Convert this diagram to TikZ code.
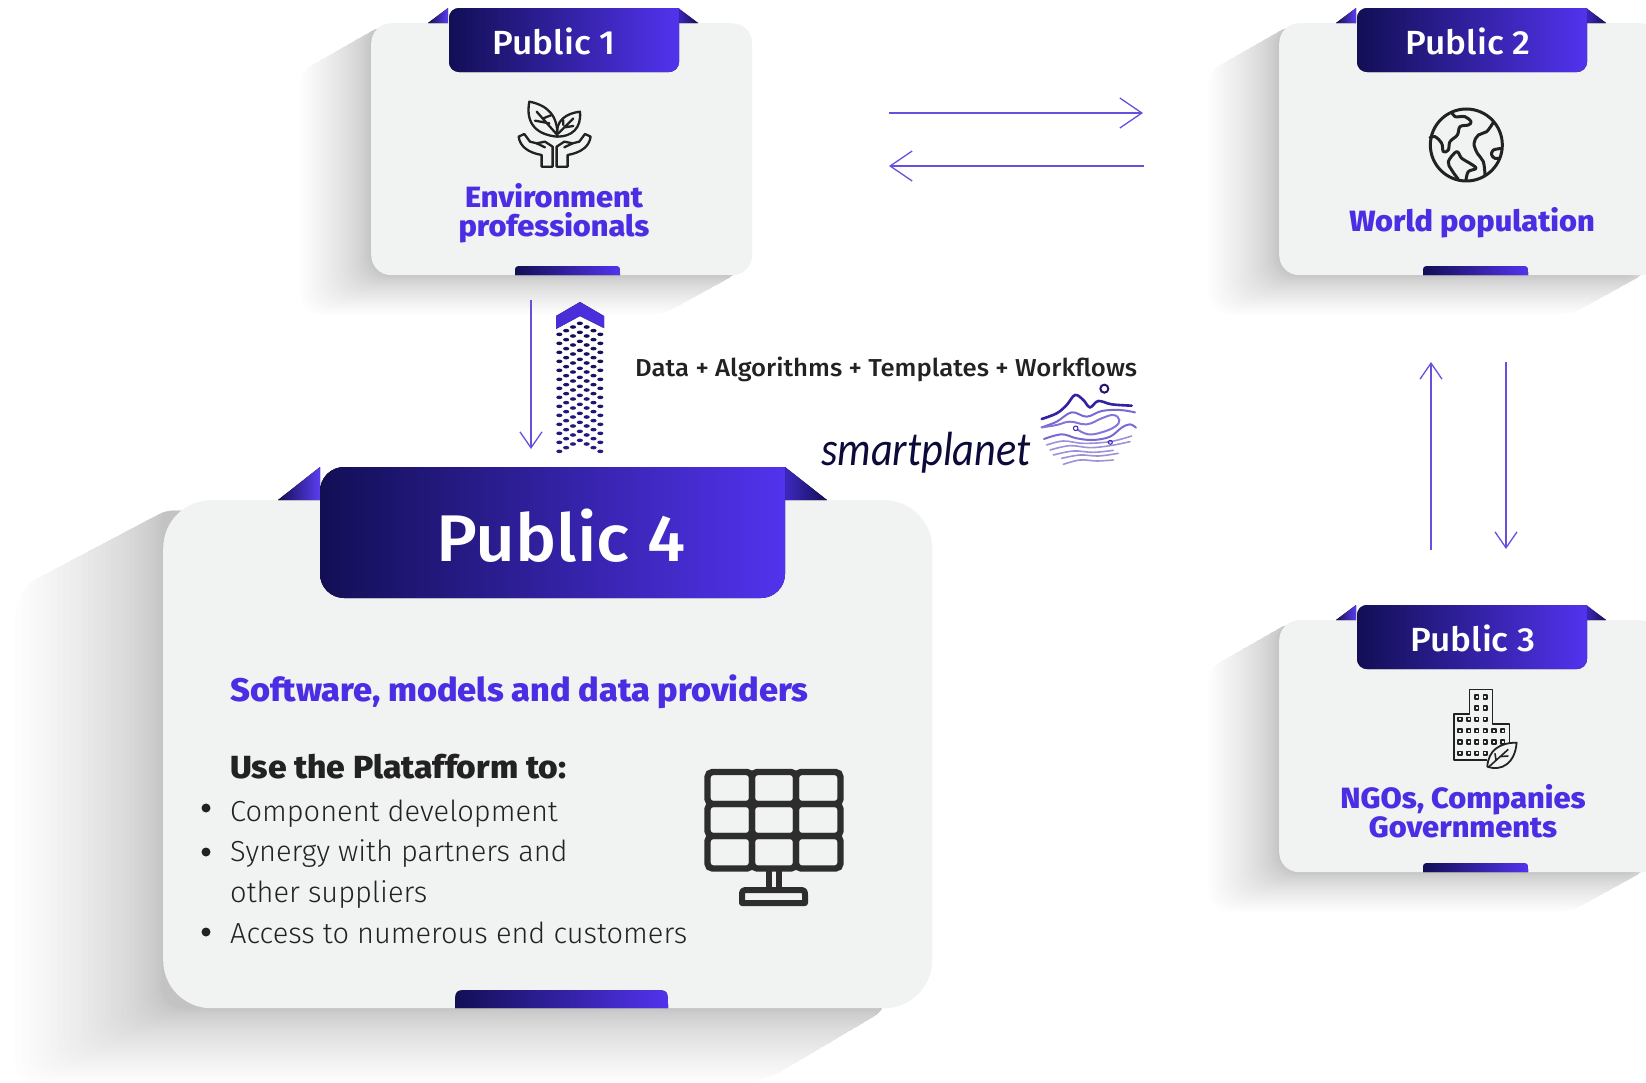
\documentclass[tikz,border=0pt]{standalone}
\usepackage{fontspec}
\usetikzlibrary{arrows.meta}
\setmainfont{Fira Sans}
\newfontfamily\lightf{Fira Sans Light}
\newfontfamily\medf[FakeStretch=1.05]{Fira Sans Medium}
\newfontfamily\dataf[FakeStretch=1.05]{Fira Sans Medium}
\newfontfamily\heavyf[FakeStretch=1.05]{Fira Sans ExtraBold}
\newfontfamily\smartf[FakeStretch=0.88]{Carlito}
\definecolor{navy}{HTML}{120F55}
\definecolor{violet}{HTML}{5233EE}
\definecolor{tagtext}{HTML}{4B2EE3}
\definecolor{cardbg}{HTML}{F1F2F2}
\definecolor{arrowc}{HTML}{6650DE}
\definecolor{ink}{HTML}{222222}
\tikzset{
  cardbox/.style={draw=none,fill=cardbg,rounded corners=#1,inner sep=0pt},
  tabfill/.style={left color=navy,right color=violet,draw=none},
  foldl/.style={left color=navy,right color=violet!95!white,draw=none},
  foldr/.style={left color=violet!70!navy,right color=navy,draw=none},
  flow/.style={arrowc,line width=1.3pt,-{Straight Barb[length=22pt,width=30pt,line width=1.3pt]}},
  flowb/.style={arrowc,line width=2pt,-{Straight Barb[length=22pt,width=30pt,line width=1.3pt]}},
  flowv/.style={arrowc,line width=1.3pt,-{Straight Barb[length=16pt,width=22pt,line width=1.3pt]}},
  flowvb/.style={arrowc,line width=2.4pt,-{Straight Barb[length=16pt,width=22pt,line width=1.3pt]}},
  pubtext/.style={text=white,font=\medf\fontsize{33.5}{33}\selectfont,anchor=base,inner sep=0pt},
  roletext/.style={text=tagtext,font=\heavyf\fontsize{29.3}{29}\selectfont,anchor=base,inner sep=0pt},
  listtext/.style={text=ink,font=\lightf\fontsize{29}{29}\selectfont,anchor=base west,inner sep=0pt},
  bulletdot/.style={circle,fill=ink,inner sep=0pt,minimum size=9pt},
  icon/.style={draw=ink,line width=2pt,line join=round,line cap=round,fill=none},
  wave/.style={line width=2pt,line cap=round}
}
% shadow: #1,#2 card top-left; #3,#4 card bottom-right; #5 left reach; #6 bottom reach; #7 clip polygon
\newcommand{\softshadow}[7]{%
  \begin{scope}
    \clip #7;
    \foreach \i in {0,...,29}{%
      \pgfmathsetmacro{\ff}{(1-\i/30)^1.5}
      \fill[black,fill opacity=0.0062,rounded corners=22pt]
        ({#1-#5*\ff},{#2}) rectangle ({#3},{#4+#6*\ff});
    }
  \end{scope}}
% tab whose top corners are rounded: left x, right x, top y, bottom y, radius
\newcommand{\lowtab}[5]{%
  \fill[tabfill] (#1,#4) .. controls (#1,#3) .. ({#1+#5},#3) -- ({#2-#5},#3) .. controls (#2,#3) .. (#2,#4) -- cycle;}
\newcommand{\smallcard}[3]{% name, left x, top y
  \node[cardbox=20pt,minimum width=381pt,minimum height=252pt,anchor=north west] (#1) at (#2,#3) {};
  \fill[foldl] ({#2+57},{#3}) -- ({#2+77},{#3-15}) -- ({#2+77},{#3}) -- cycle;
  \fill[foldr] ({#2+307},{#3-15}) -- ({#2+327},{#3}) -- ({#2+307},{#3}) -- cycle;
  \fill[tabfill,rounded corners=10pt] ({#2+78},{#3+49}) -- ({#2+78},{#3-15}) [sharp corners] -- ({#2+308},{#3-15}) [rounded corners=10pt] -- ({#2+308},{#3+49}) -- cycle;
  \lowtab{#2+144}{#2+249}{#3+243}{#3+252}{8}
}
\begin{document}
\begin{tikzpicture}[x=1pt,y=-1pt]
\useasboundingbox (0,0) rectangle (1646,1082);

% ---- shadows
\softshadow{371}{23}{752}{275}{71}{40}{[rounded corners=12pt] (384,24) -- (300,72) -- (300,315) -- (662,315) -- (740,272) -- cycle}
\softshadow{1279}{23}{1646}{275}{71}{40}{[rounded corners=12pt] (1292,24) -- (1208,72) -- (1208,315) -- (1570,315) -- (1648,272) -- cycle}
\softshadow{1279}{620}{1646}{872}{71}{40}{[rounded corners=12pt] (1292,621) -- (1208,669) -- (1208,912) -- (1570,912) -- (1648,869) -- cycle}
\softshadow{163}{500}{932}{1008}{148}{76}{[rounded corners=24pt] (180,503) -- (15,590) -- (15,1084) -- (760,1084) -- (895,1004) -- cycle}

% ---- cards
\smallcard{cardone}{371}{23}
\smallcard{cardtwo}{1279}{23}
\smallcard{cardthree}{1279}{620}

\node[cardbox=48pt,minimum width=769pt,minimum height=508pt,anchor=north west] (cardfour) at (163,500) {};
\fill[foldl] (278,500) -- (320,467) -- (320,500) -- cycle;
\fill[foldr] (785,467) -- (827,500) -- (785,500) -- cycle;
\fill[tabfill,rounded corners=24pt] (320,598) -- (320,467) [sharp corners] -- (785,467) [rounded corners=24pt] -- (785,598) -- cycle;
\lowtab{455}{668}{990}{1008}{15}

% ---- titles
\node[pubtext] (pubone) at (554,54) {Public 1};
\node[pubtext] (pubtwo) at (1468,54) {Public 2};
\node[pubtext] (pubthree) at (1473,651) {Public 3};
\node[pubtext,font=\medf\fontsize{66}{66}\selectfont] (pubfour) at (561,561) {Public 4};

\node[roletext] (envone) at (554,207) {Environment};
\node[roletext] (envtwo) at (554,236) {professionals};
\node[roletext] (world) at (1472,231) {World population};
\node[roletext] (ngoone) at (1463,808) {NGOs, Companies};
\node[roletext] (ngotwo) at (1463,837) {Governments};

\node[text=tagtext,font=\heavyf\fontsize{32.7}{33}\selectfont,anchor=base west,inner sep=0pt] (software) at (230,701) {Software, models and data providers};
\node[text=ink,font=\heavyf\fontsize{32}{32}\selectfont,anchor=base west,inner sep=0pt] (useplat) at (230,778) {Use the Platafform to:};
\node[listtext] (lia) at (230,821) {Component development};
\node[listtext] (lib) at (230,861) {Synergy with partners and};
\node[listtext] (lic) at (230,902) {other suppliers};
\node[listtext] (lid) at (230,943) {Access to numerous end customers};
\node[bulletdot] (bua) at (206,808) {};
\node[bulletdot] (bub) at (206,852) {};
\node[bulletdot] (buc) at (206,932) {};

\node[text=ink,font=\dataf\fontsize{24.5}{25}\selectfont,anchor=base west,inner sep=0pt] (dataline) at (635,376) {Data + Algorithms + Templates + Workflows};
\node[text=navy!70!black,font=\smartf\itshape\fontsize{48}{48}\selectfont,anchor=base west,inner sep=0pt] (smart) at (821,465) {smartplanet};

% ---- connectors
\coordinate (ara) at (889,113); \coordinate (arb) at (1143,113);
\coordinate (brb) at (1144,166); \coordinate (bra) at (889,166);
\coordinate (dna) at (531,300); \coordinate (dnb) at (531,449);
\coordinate (upa) at (1431,550); \coordinate (upb) at (1431,362);
\coordinate (dra) at (1506,362); \coordinate (drb) at (1506,549);
\draw[flow] (ara) -- (arb);
\draw[flowb] (brb) -- (bra);
\draw[flowv] (dna) -- (dnb);
\draw[flowvb] (upa) -- (upb);
\draw[flowv] (dra) -- (drb);

% ---- chevron column
\fill[left color=violet!85!navy,right color=violet!90!navy] (556,316) -- (580,302) -- (604,316) -- (604,328) -- (580,316) -- (556,329) -- cycle;
\foreach \r in {0,...,13}{
  \foreach \c in {0,...,6}{
    \pgfmathsetmacro{\px}{545+(43+20.5*\c)/3}
    \pgfmathsetmacro{\py}{295+(118+27*\r-11*(3-abs(\c-3)))/3}
    \pgfmathsetmacro{\mixv}{100-4*\r}
    \fill[navy!\mixv!violet!60!navy] (\px,\py) ellipse [x radius=3.1pt,y radius=1.8pt];
  }
}

% ---- solar panel icon
\begin{scope}[line width=6.4pt,draw=ink!95!white]
  \foreach \xa/\xb in {707.5/752,752/796,796/840.5}{
    \foreach \ya/\yb in {772/804,804/836,836/868.5}{
      \draw[rounded corners=5pt] (\xa,\ya) rectangle (\xb,\yb);
    }
  }
  \draw[line width=6pt] (769,871) -- (769,888) (779,871) -- (779,888);
  \draw[line width=6pt,line join=round] (742,903) -- (742,897) .. controls (742,890) .. (749,890) -- (798,890) .. controls (805,890) .. (805,897) -- (805,903) -- cycle;
\end{scope}

% ---- globe icon
\begin{scope}[shift={(1400,90)},x=0.3333pt,y=-0.3333pt,line width=3pt,draw=ink,line join=round]
  \draw (199,165) circle [radius=36pt];
  \draw plot[smooth,tension=.6] coordinates {(155,65) (165,80) (195,80) (213,95) (205,105) (180,110) (172,135) (150,155) (145,180) (130,185) (125,160) (105,140) (88,145)};
  \draw plot[smooth,tension=.6] coordinates {(280,97) (260,125) (235,135) (222,160) (232,190) (250,215) (255,255)};
  \draw plot[smooth,tension=.6] coordinates {(308,175) (280,180) (275,195) (285,205) (300,205)};
  \draw plot[smooth,tension=.6] coordinates {(175,268) (155,240) (145,215) (170,185) (185,205) (210,220) (228,235) (205,245) (198,270)};
\end{scope}

% ---- plant in hands icon
\begin{scope}[shift={(280,0)},x=0.3333pt,y=-0.3333pt,icon,line width=2.3pt]
  \draw (748,305) .. controls (800,315) and (835,345) .. (832,410) .. controls (775,405) and (735,375) .. (748,305) -- cycle;
  \draw (900,335) .. controls (860,340) and (825,360) .. (832,410) .. controls (875,410) and (905,385) .. (900,335) -- cycle;
  \draw (770,335) -- (832,405) (790,355) -- (815,345) (765,362) -- (808,370) (835,400) -- (880,355) (850,375) -- (850,360) (855,382) -- (880,378);
  \draw (733,402) -- (716,410) .. controls (720,440) and (745,458) .. (785,465) -- (785,500) -- (818,500) -- (818,440) -- (795,425) -- (770,430) -- (750,425) -- (733,402);
  \draw (770,430) -- (795,442);
  \draw (915,402) -- (932,410) .. controls (928,440) and (903,458) .. (863,465) -- (863,500) -- (830,500) -- (830,440) -- (853,425) -- (878,430) -- (898,425) -- (915,402);
  \draw (878,430) -- (853,442);
\end{scope}

% ---- building icon
\begin{scope}[shift={(1180,590)},x=0.3333pt,y=-0.3333pt,draw=ink,line width=1.5pt,line join=round]
  \draw (920,510) -- (822,510) -- (822,372) -- (868,372) -- (868,298) -- (938,298) -- (938,402) -- (988,402) -- (988,460);
  \foreach \x/\y in {890/321,916/321,890/354,916/354,840/388,866/388,890/388,916/388,840/422,866/422,890/422,916/422,942/422,968/422,840/456,866/456,890/456,916/456,942/456,968/456,840/490,866/490,890/490,916/490}{
    \draw[line width=1.4pt] ({\x-5.5},{\y-5.5}) rectangle ({\x+5.5},{\y+5.5});
  }
  \draw[fill=cardbg,line width=1.8pt] (1010,458) .. controls (960,458) and (925,480) .. (922,530) .. controls (965,545) and (1005,520) .. (1010,458) -- cycle;
  \draw[line width=1.6pt] (925,532) -- (985,478) (948,510) -- (945,490) (958,500) -- (985,498);
\end{scope}

% ---- smartplanet logo
\begin{scope}[shift={(1030,375)},x=0.3333pt,y=-0.3333pt]
  \draw[wave,navy!80!violet,line width=2pt] (223,41) circle [radius=4pt];
  \draw[wave,navy!50!violet,line width=2.6pt] plot[smooth,tension=.6] coordinates {(35,132) (80,115) (110,90) (135,60) (160,75) (180,97) (205,78) (245,88) (305,92)};
  \draw[wave,navy!30!violet!70!white] plot[smooth,tension=.6] coordinates {(35,157) (80,140) (125,112) (170,125) (215,108) (270,105) (315,112)};
  \draw[wave,navy!25!violet!65!white] plot[smooth,tension=.7] coordinates {(143,164) (175,178) (215,172) (255,155) (268,135) (250,120) (215,130) (170,148) (120,140) (80,150) (35,157)};
  \draw[wave,navy!30!violet!70!white] plot[smooth,tension=.6] coordinates {(42,192) (95,178) (140,190) (190,195) (240,185) (275,158) (300,148) (318,158)};
  \foreach \pts in {{(50,210) (100,198) (160,205) (240,200) (305,183)},{(60,225) (120,212) (180,218) (240,212) (300,200)},{(70,240) (130,228) (190,232) (250,226)},{(95,250) (150,240) (205,243) (265,235)},{(100,268) (150,255) (200,258) (250,255)}}{
    \draw[wave,line width=1.6pt,violet!60!navy!50!white] plot[smooth,tension=.6] coordinates {\pts};
  }
  \draw[wave,violet!60!navy,line width=1pt] (137,160) circle [radius=2.3pt];
  \draw[wave,violet!60!navy,line width=1pt] (241,202) circle [radius=2pt];
\end{scope}
\end{tikzpicture}
\end{document}
